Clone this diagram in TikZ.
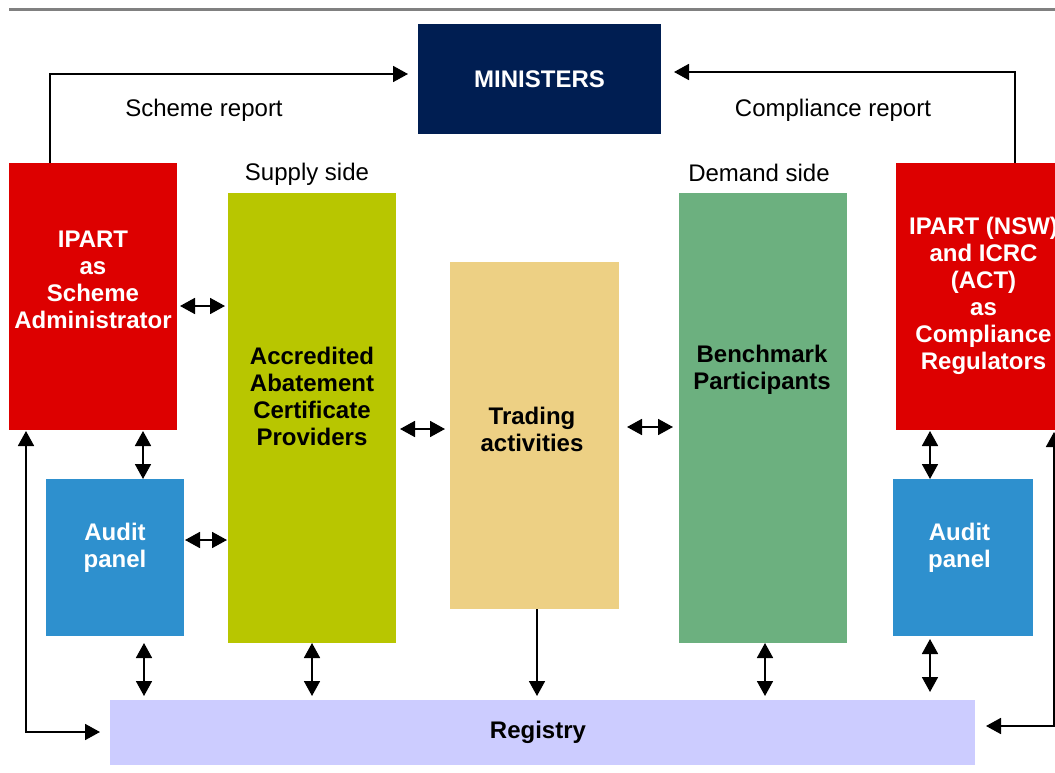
\documentclass[tikz,border=0pt]{standalone}
\usepackage{fontspec}
\setmainfont{Liberation Sans}
\usetikzlibrary{arrows.meta}
\definecolor{navy}{HTML}{001E52}
\definecolor{ipred}{HTML}{DD0000}
\definecolor{olive}{HTML}{B8C600}
\definecolor{tan}{HTML}{EDD084}
\definecolor{sage}{HTML}{6CB07F}
\definecolor{audblue}{HTML}{2E90CE}
\definecolor{lav}{HTML}{CCCCFF}
\definecolor{rule}{HTML}{808080}
\tikzset{
  box/.style={draw=none, inner sep=0pt, outer sep=0pt},
  btxt/.style={font=\fontsize{24}{27}\selectfont\bfseries, align=center, inner sep=0pt},
  lbl/.style={font=\fontsize{24}{27}\selectfont, inner sep=0pt},
  conn/.style={line width=1.8pt, draw=black},
  dbl/.style={conn, {Triangle[length=15pt,width=16pt]}-{Triangle[length=15pt,width=16pt]}},
  one/.style={conn, -{Triangle[length=15pt,width=16pt]}},
}
\begin{document}
\begin{tikzpicture}[x=1pt,y=-1pt]
\path[use as bounding box] (0,0) rectangle (1055,773);
\clip (0,0) rectangle (1055,773);
\fill[white] (0,0) rectangle (1055,773);
% top rule
\draw[rule, line width=3pt] (9,9.5) -- (1055,9.5);
% boxes
\node[box, fill=navy, minimum width=243pt, minimum height=110pt] (min) at (539.5,79) {};
\node[btxt, text=white] (mint) at (539.5,79) {MINISTERS};
\node[box, fill=ipred, minimum width=168pt, minimum height=267pt] (ipl) at (93,296.5) {};
\node[btxt, text=white] (iplt) at (93,279.5) {IPART\\as\\Scheme\\Administrator};
\node[box, fill=olive, minimum width=168pt, minimum height=450pt] (acp) at (312,418) {};
\node[btxt] (acpt) at (312,396.5) {Accredited\\Abatement\\Certificate\\Providers};
\node[box, fill=tan, minimum width=169pt, minimum height=347pt] (trd) at (534.5,435.5) {};
\node[btxt] (trdt) at (532,429.5) {Trading\\activities};
\node[box, fill=sage, minimum width=168pt, minimum height=450pt] (bm) at (763,418) {};
\node[btxt] (bmt) at (762,369.5) {Benchmark\\Participants};
\node[box, fill=ipred, minimum width=175pt, minimum height=267pt] (ipr) at (983.5,296.5) {};
\node[btxt, text=white] (iprt) at (983.5,295.5) {IPART (NSW)\\and ICRC\\(ACT)\\as\\Compliance\\Regulators};
\node[box, fill=audblue, minimum width=138pt, minimum height=157pt] (al) at (115,557.5) {};
\node[btxt, text=white] (alt) at (115,547.5) {Audit\\panel};
\node[box, fill=audblue, minimum width=140pt, minimum height=157pt] (ar) at (963,557.5) {};
\node[btxt, text=white] (art) at (959.5,548) {Audit\\panel};
\node[box, fill=lav, minimum width=865pt, minimum height=65pt] (reg) at (542.5,732.5) {};
\node[btxt] (regt) at (538,732) {Registry};
% labels
\node[lbl] (sr) at (204,110) {Scheme report};
\node[lbl] (cr) at (833,110) {Compliance report};
\node[lbl] (ss) at (307,174) {Supply side};
\node[lbl] (ds) at (759,173) {Demand side};
% report arrows
\draw[one, shorten >=10pt] (50,0 |- ipl.north) |- (min.west |- 0,74);
\draw[one, shorten >=13pt] (1015,0 |- ipr.north) |- (min.east |- 0,72);
% horizontal double arrows
\draw[dbl, shorten <=3pt, shorten >=3pt] (ipl.east |- 0,306) -- (acp.west |- 0,306);
\draw[dbl, shorten <=1pt, shorten >=1pt] (al.east |- 0,540) -- (acp.west |- 0,540);
\draw[dbl, shorten <=4pt, shorten >=5pt] (acp.east |- 0,429) -- (trd.west |- 0,429);
\draw[dbl, shorten <=8pt, shorten >=6pt] (trd.east |- 0,427) -- (bm.west |- 0,427);
% vertical double arrows
\draw[dbl, shorten <=1pt] (143,0 |- ipl.south) -- (143,0 |- al.north);
\draw[dbl, shorten <=7pt, shorten >=4pt] (144,0 |- al.south) -- (144,0 |- reg.north);
\draw[dbl, shorten >=4pt] (312,0 |- acp.south) -- (312,0 |- reg.north);
\draw[one, shorten >=4pt] (537,0 |- trd.south) -- (537,0 |- reg.north);
\draw[dbl, shorten >=4pt] (765,0 |- bm.south) -- (765,0 |- reg.north);
\draw[dbl, shorten <=1pt] (930,0 |- ipr.south) -- (930,0 |- ar.north);
\draw[dbl, shorten <=3pt, shorten >=8pt] (930,0 |- ar.south) -- (930,0 |- reg.north);
% loops to registry
\draw[dbl, shorten <=1pt, shorten >=10pt] (ipl.south -| 26,0) |- (reg.west |- 0,732);
\draw[dbl, shorten <=2pt, shorten >=11pt] (ipr.south -| 1054,0) |- (reg.east |- 0,726);
\end{tikzpicture}
\end{document}
